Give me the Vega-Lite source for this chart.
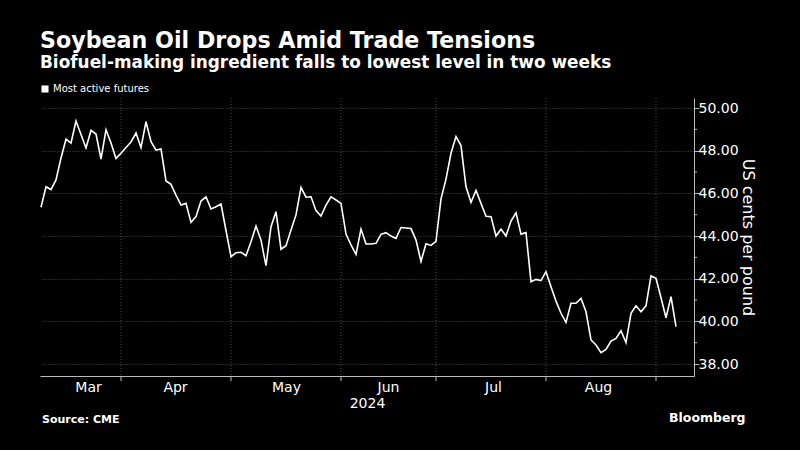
{
  "$schema": "https://vega.github.io/schema/vega-lite/v6.json",
  "width": 654,
  "height": 278,
  "autosize": {"type": "none"},
  "padding": {"left": 40, "top": 98, "right": 106, "bottom": 74},
  "background": "#000000",
  "title": {
    "text": "Soybean Oil Drops Amid Trade Tensions",
    "subtitle": "Biofuel-making ingredient falls to lowest level in two weeks",
    "anchor": "start",
    "frame": "group",
    "font": "DejaVu Sans",
    "fontSize": 22.2,
    "fontWeight": "bold",
    "color": "#ffffff",
    "subtitleFont": "DejaVu Sans",
    "subtitleFontSize": 16.9,
    "subtitleFontWeight": "bold",
    "subtitleColor": "#ffffff",
    "subtitlePadding": 3,
    "offset": 13
  },
  "config": {"view": {"stroke": null}, "font": "DejaVu Sans"},
  "datasets": {
    "prices": [
      {"d": "2024-03-07", "i": 0, "v": 45.35}, {"d": "2024-03-08", "i": 1, "v": 46.31}, {"d": "2024-03-11", "i": 2, "v": 46.18},
      {"d": "2024-03-12", "i": 3, "v": 46.63}, {"d": "2024-03-13", "i": 4, "v": 47.66}, {"d": "2024-03-14", "i": 5, "v": 48.54},
      {"d": "2024-03-15", "i": 6, "v": 48.36}, {"d": "2024-03-18", "i": 7, "v": 49.39}, {"d": "2024-03-19", "i": 8, "v": 48.76},
      {"d": "2024-03-20", "i": 9, "v": 48.13}, {"d": "2024-03-21", "i": 10, "v": 48.95}, {"d": "2024-03-22", "i": 11, "v": 48.78},
      {"d": "2024-03-25", "i": 12, "v": 47.61}, {"d": "2024-03-26", "i": 13, "v": 48.98}, {"d": "2024-03-27", "i": 14, "v": 48.36},
      {"d": "2024-03-28", "i": 15, "v": 47.64}, {"d": "2024-04-01", "i": 16, "v": 47.88}, {"d": "2024-04-02", "i": 17, "v": 48.15},
      {"d": "2024-04-03", "i": 18, "v": 48.41}, {"d": "2024-04-04", "i": 19, "v": 48.83}, {"d": "2024-04-05", "i": 20, "v": 48.14},
      {"d": "2024-04-08", "i": 21, "v": 49.36}, {"d": "2024-04-09", "i": 22, "v": 48.42}, {"d": "2024-04-10", "i": 23, "v": 48.03},
      {"d": "2024-04-11", "i": 24, "v": 48.08}, {"d": "2024-04-12", "i": 25, "v": 46.58}, {"d": "2024-04-15", "i": 26, "v": 46.42},
      {"d": "2024-04-16", "i": 27, "v": 45.92}, {"d": "2024-04-17", "i": 28, "v": 45.45}, {"d": "2024-04-18", "i": 29, "v": 45.53},
      {"d": "2024-04-19", "i": 30, "v": 44.64}, {"d": "2024-04-22", "i": 31, "v": 44.91}, {"d": "2024-04-23", "i": 32, "v": 45.64},
      {"d": "2024-04-24", "i": 33, "v": 45.84}, {"d": "2024-04-25", "i": 34, "v": 45.27}, {"d": "2024-04-26", "i": 35, "v": 45.37},
      {"d": "2024-04-29", "i": 36, "v": 45.50}, {"d": "2024-04-30", "i": 37, "v": 44.26}, {"d": "2024-05-01", "i": 38, "v": 43.03},
      {"d": "2024-05-02", "i": 39, "v": 43.22}, {"d": "2024-05-03", "i": 40, "v": 43.24}, {"d": "2024-05-06", "i": 41, "v": 43.08},
      {"d": "2024-05-07", "i": 42, "v": 43.73}, {"d": "2024-05-08", "i": 43, "v": 44.47}, {"d": "2024-05-09", "i": 44, "v": 43.81},
      {"d": "2024-05-10", "i": 45, "v": 42.61}, {"d": "2024-05-13", "i": 46, "v": 44.44}, {"d": "2024-05-14", "i": 47, "v": 45.14},
      {"d": "2024-05-15", "i": 48, "v": 43.38}, {"d": "2024-05-16", "i": 49, "v": 43.55}, {"d": "2024-05-17", "i": 50, "v": 44.28},
      {"d": "2024-05-20", "i": 51, "v": 44.99}, {"d": "2024-05-21", "i": 52, "v": 46.28}, {"d": "2024-05-22", "i": 53, "v": 45.82},
      {"d": "2024-05-23", "i": 54, "v": 45.84}, {"d": "2024-05-24", "i": 55, "v": 45.19}, {"d": "2024-05-28", "i": 56, "v": 44.94},
      {"d": "2024-05-29", "i": 57, "v": 45.45}, {"d": "2024-05-30", "i": 58, "v": 45.84}, {"d": "2024-05-31", "i": 59, "v": 45.69},
      {"d": "2024-06-03", "i": 60, "v": 45.53}, {"d": "2024-06-04", "i": 61, "v": 44.09}, {"d": "2024-06-05", "i": 62, "v": 43.58},
      {"d": "2024-06-06", "i": 63, "v": 43.14}, {"d": "2024-06-07", "i": 64, "v": 44.33}, {"d": "2024-06-10", "i": 65, "v": 43.63},
      {"d": "2024-06-11", "i": 66, "v": 43.63}, {"d": "2024-06-12", "i": 67, "v": 43.66}, {"d": "2024-06-13", "i": 68, "v": 44.08},
      {"d": "2024-06-14", "i": 69, "v": 44.16}, {"d": "2024-06-17", "i": 70, "v": 44.00}, {"d": "2024-06-18", "i": 71, "v": 43.89},
      {"d": "2024-06-20", "i": 72, "v": 44.40}, {"d": "2024-06-21", "i": 73, "v": 44.38}, {"d": "2024-06-24", "i": 74, "v": 44.35},
      {"d": "2024-06-25", "i": 75, "v": 43.81}, {"d": "2024-06-26", "i": 76, "v": 42.81}, {"d": "2024-06-27", "i": 77, "v": 43.64},
      {"d": "2024-06-28", "i": 78, "v": 43.56}, {"d": "2024-07-01", "i": 79, "v": 43.75}, {"d": "2024-07-02", "i": 80, "v": 45.74},
      {"d": "2024-07-03", "i": 81, "v": 46.67}, {"d": "2024-07-05", "i": 82, "v": 47.88}, {"d": "2024-07-08", "i": 83, "v": 48.66},
      {"d": "2024-07-09", "i": 84, "v": 48.24}, {"d": "2024-07-10", "i": 85, "v": 46.31}, {"d": "2024-07-11", "i": 86, "v": 45.58},
      {"d": "2024-07-12", "i": 87, "v": 46.14}, {"d": "2024-07-15", "i": 88, "v": 45.53}, {"d": "2024-07-16", "i": 89, "v": 44.93},
      {"d": "2024-07-17", "i": 90, "v": 44.91}, {"d": "2024-07-18", "i": 91, "v": 44.00}, {"d": "2024-07-19", "i": 92, "v": 44.32},
      {"d": "2024-07-22", "i": 93, "v": 44.00}, {"d": "2024-07-23", "i": 94, "v": 44.70}, {"d": "2024-07-24", "i": 95, "v": 45.09},
      {"d": "2024-07-25", "i": 96, "v": 44.09}, {"d": "2024-07-26", "i": 97, "v": 44.16}, {"d": "2024-07-29", "i": 98, "v": 41.86},
      {"d": "2024-07-30", "i": 99, "v": 41.97}, {"d": "2024-07-31", "i": 100, "v": 41.91}, {"d": "2024-08-01", "i": 101, "v": 42.33},
      {"d": "2024-08-02", "i": 102, "v": 41.62}, {"d": "2024-08-05", "i": 103, "v": 40.95}, {"d": "2024-08-06", "i": 104, "v": 40.38},
      {"d": "2024-08-07", "i": 105, "v": 39.95}, {"d": "2024-08-08", "i": 106, "v": 40.85}, {"d": "2024-08-09", "i": 107, "v": 40.85},
      {"d": "2024-08-12", "i": 108, "v": 41.08}, {"d": "2024-08-13", "i": 109, "v": 40.45}, {"d": "2024-08-14", "i": 110, "v": 39.13},
      {"d": "2024-08-15", "i": 111, "v": 38.89}, {"d": "2024-08-16", "i": 112, "v": 38.53}, {"d": "2024-08-19", "i": 113, "v": 38.69},
      {"d": "2024-08-20", "i": 114, "v": 39.08}, {"d": "2024-08-21", "i": 115, "v": 39.20}, {"d": "2024-08-22", "i": 116, "v": 39.56},
      {"d": "2024-08-23", "i": 117, "v": 39.00}, {"d": "2024-08-26", "i": 118, "v": 40.38}, {"d": "2024-08-27", "i": 119, "v": 40.73},
      {"d": "2024-08-28", "i": 120, "v": 40.45}, {"d": "2024-08-29", "i": 121, "v": 40.73}, {"d": "2024-08-30", "i": 122, "v": 42.13},
      {"d": "2024-09-03", "i": 123, "v": 42.02}, {"d": "2024-09-04", "i": 124, "v": 41.11}, {"d": "2024-09-05", "i": 125, "v": 40.17},
      {"d": "2024-09-06", "i": 126, "v": 41.16}, {"d": "2024-09-09", "i": 127, "v": 39.75}
    ],
    "monthStarts": [
      {"month": "Apr", "i": 16}, {"month": "May", "i": 38}, {"month": "Jun", "i": 60},
      {"month": "Jul", "i": 79}, {"month": "Aug", "i": 101}, {"month": "Sep", "i": 123}
    ],
    "minorTicks": [{"v": 39}, {"v": 41}, {"v": 43}, {"v": 45}, {"v": 47}, {"v": 49}]
  },
  "layer": [
    {
      "data": {"name": "monthStarts"},
      "mark": {"type": "rule", "color": "#4d4d4d", "strokeDash": [1, 2], "strokeWidth": 1},
      "encoding": {
        "x": {"field": "i", "type": "quantitative", "scale": {"domain": [-0.2, 130.6], "nice": false, "zero": false}}
      }
    },
    {
      "data": {"name": "monthStarts"},
      "mark": {"type": "rule", "color": "#bbbbbb", "strokeWidth": 1},
      "encoding": {
        "x": {"field": "i", "type": "quantitative"},
        "y": {"datum": 37.44},
        "y2": {"datum": 37.2}
      }
    },
    {
      "data": {"name": "minorTicks"},
      "mark": {"type": "rule", "color": "#bbbbbb", "strokeWidth": 1},
      "encoding": {
        "y": {"field": "v", "type": "quantitative"},
        "x": {"datum": 130.6},
        "x2": {"datum": 131.2}
      }
    },
    {
      "data": {"name": "prices"},
      "mark": {"type": "line", "strokeWidth": 1.6, "interpolate": "linear"},
      "encoding": {
        "x": {
          "field": "i",
          "type": "quantitative",
          "scale": {"domain": [-0.2, 130.6], "nice": false, "zero": false},
          "axis": {
            "values": [9.4, 26.8, 49, 69.4, 90.4, 111.4],
            "labelExpr": "datum.value < 16 ? 'Mar' : datum.value < 38 ? 'Apr' : datum.value < 60 ? 'May' : datum.value < 79 ? 'Jun' : datum.value < 101 ? 'Jul' : 'Aug'",
            "ticks": false,
            "grid": false,
            "domainColor": "#bbbbbb",
            "labelColor": "#ffffff",
            "labelFontSize": 14,
            "labelPadding": 4,
            "labelFlush": false,
            "labelOverlap": false,
            "title": "2024",
            "titleColor": "#ffffff",
            "titleFontSize": 14,
            "titleFontWeight": "normal",
            "titlePadding": 2
          }
        },
        "y": {
          "field": "v",
          "type": "quantitative",
          "scale": {"domain": [37.44, 50.47], "nice": false, "zero": false},
          "axis": {
            "orient": "right",
            "values": [38, 40, 42, 44, 46, 48, 50],
            "format": ".2f",
            "grid": true,
            "gridColor": "#4d4d4d",
            "gridDash": [1, 2],
            "domainColor": "#bbbbbb",
            "tickColor": "#bbbbbb",
            "tickSize": 5,
            "labelColor": "#ffffff",
            "labelFontSize": 14,
            "labelPadding": -1,
            "title": "US cents per pound",
            "titleColor": "#ffffff",
            "titleFontSize": 16,
            "titleFontWeight": "normal",
            "titlePadding": 1
          }
        },
        "color": {
          "datum": "Most active futures",
          "scale": {"range": ["#ffffff"]},
          "legend": {
            "orient": "none",
            "legendX": 0,
            "legendY": -14,
            "title": null,
            "symbolType": "square",
            "symbolSize": 50,
            "symbolFillColor": "#ffffff",
            "symbolStrokeColor": "#ffffff",
            "symbolStrokeWidth": 0,
            "labelColor": "#ffffff",
            "labelFontSize": 10,
            "labelOffset": 3
          }
        }
      }
    },
    {
      "data": {"values": [{"t": "Source: CME"}]},
      "mark": {"type": "text", "align": "left", "baseline": "middle", "fontWeight": "bold", "fontSize": 11, "color": "#ffffff"},
      "encoding": {
        "text": {"field": "t"},
        "x": {"datum": 0.2},
        "y": {"datum": 35.37}
      }
    },
    {
      "data": {"values": [{"t": "Bloomberg"}]},
      "mark": {"type": "text", "align": "left", "baseline": "middle", "fontWeight": "bold", "fontSize": 12.5, "color": "#ffffff"},
      "encoding": {
        "text": {"field": "t"},
        "x": {"datum": 125.6},
        "y": {"datum": 35.47}
      }
    }
  ]
}
